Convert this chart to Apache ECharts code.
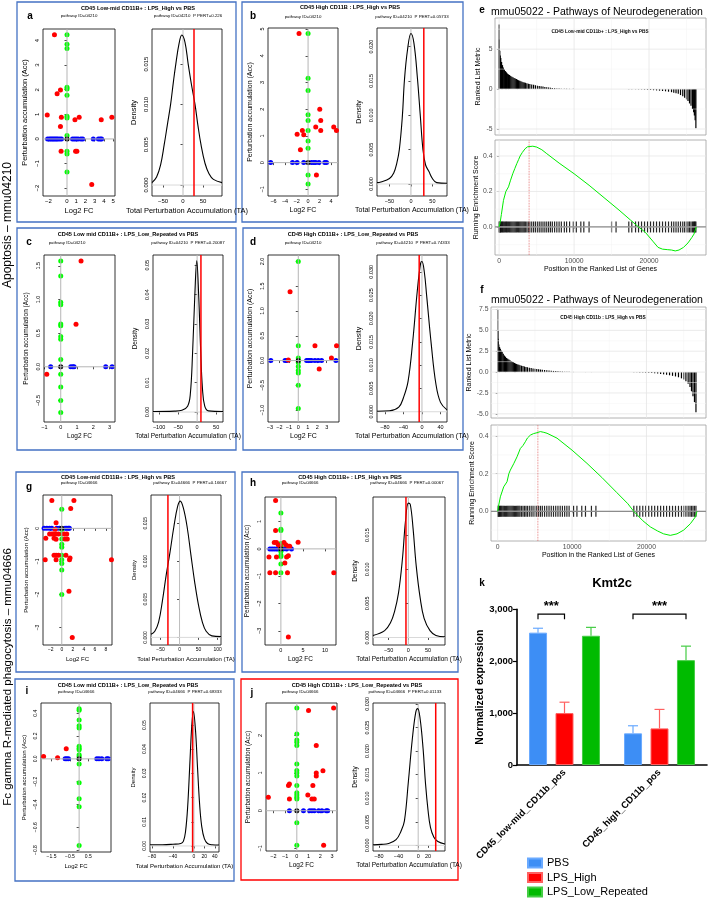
<!DOCTYPE html>
<html><head><meta charset="utf-8">
<script src="https://cdn.jsdelivr.net/npm/echarts@6/dist/echarts.min.js"></script>
<style>html,body{margin:0;padding:0;background:#fff}#c{width:710px;height:900px}</style>
</head><body><div id="c"></div>
<script>
// ---------------- DATA ----------------
// Panel a
const aRed = [[-1.36,4.24],[-1.07,1.84],[-0.71,1.99],[-2.14,0.97],[-0.61,0.88],[-0.71,0.51],[-0.64,-0.5],[0.86,0.78],[1.32,0.88],[0.93,-0.5],[1.07,-0.5],[3.71,0.78],[4.86,0.88],[2.68,-1.85]];
const aGreen = [4.24,3.85,3.68,2.1,2.03,1.78,0.92,0.85,0.14,-0.5,-0.61,-1.34];
const aBlue = [-2.1,-1.9,-1.75,-1.6,-1.45,-1.3,-1.15,-1.0,-0.8,-0.6,0.6,0.8,1.0,1.2,1.5,1.7,2.85,3.4,3.6,3.75];
const aDens = [[-77.5,0.0003],[-66,0.001],[-56,0.0025],[-47,0.005],[-39,0.0075],[-31,0.010],[-24,0.0128],[-18,0.015],[-10,0.0175],[-3,0.0186],[5,0.0177],[13,0.015],[21,0.0125],[30,0.010],[37,0.0075],[45,0.005],[55,0.0027],[65,0.0014],[76,0.0007],[97.5,0.0003]];
const aObs = 27.5;
const aSX = [-2,0,1,2,3,4,5], aSY = [-2,-1,0,1,2,3,4], aDX = [-50,0,50,100], aDY = [0,0.005,0.01,0.015];
// Panel b
const bRed = [[-1.57,4.83],[2.03,2.0],[2.2,1.58],[2.2,1.2],[1.33,1.33],[-1.9,1.06],[-0.99,1.2],[-0.75,1.04],[-1.33,0.48],[4.46,1.33],[4.93,1.2],[1.45,-0.46]];
const bGreen = [4.83,3.16,2.7,1.79,1.58,1.2,0.81,0.54,-0.46,-0.8];
const bBlue = [-6.5,-2.7,-1.9,-0.75,0.58,1.0,1.33,1.9,2.9,3.2];
const bDens = [[-79,0.0002],[-70,0.0003],[-50,0.0008],[-40,0.0016],[-33,0.003],[-27,0.005],[-20,0.0098],[-15,0.0152],[-8,0.0195],[0,0.0219],[7,0.0205],[15,0.0155],[22,0.0098],[28,0.005],[34,0.0028],[42,0.0018],[50,0.0008],[60,0.0002],[84,0.0001]];
const bObs = 30;
const bSX = [-6,-4,-2,0,2,4], bSY = [-1,0,1,2,3,4,5], bDX = [-50,0,50], bDY = [0,0.005,0.01,0.015,0.02];
// Panel c
const cRed = [[1.25,1.57],[0.94,0.63],[-0.86,-0.11]];
const cGreen = [1.57,1.35,0.96,0.92,0.635,0.61,0.45,0.41,0.11,-0.11,-0.3,-0.5,-0.68];
const cBlue = [-0.62,0.62,0.74,0.82,2.77,3.16];
const cDens = [[-116,0.0002],[-60,0.0003],[-40,0.0006],[-25,0.002],[-18,0.006],[-12,0.02],[-6,0.04],[-1,0.0515],[4,0.04],[9,0.022],[14,0.008],[20,0.002],[30,0.0004],[68,0.0002]];
const cObs = 10;
const cSX = [-1,0,1,2,3], cSY = [-0.5,0,0.5,1,1.5], cDX = [-100,-50,0,50], cDY = [0,0.01,0.02,0.03,0.04,0.05];
// Panel d
const dRed = [[-0.87,1.39],[-1.05,0.01],[1.76,0.3],[2.21,-0.17],[3.5,0.05],[4.04,0.3]];
const dGreen = [2.0,0.3,0.05,-0.04,-0.12,-0.2,-0.25,-0.5,-0.97];
const dBlue = [-2.9,-1.4,-1.2,0.88,1.05,1.23,1.4,1.76,2.1,2.46,3.97];
const dDens = [[-97,0.0001],[-70,0.0002],[-50,0.001],[-40,0.003],[-30,0.0065],[-20,0.015],[-10,0.026],[-3,0.0318],[0,0.0322],[5,0.030],[10,0.025],[20,0.0145],[30,0.006],[40,0.002],[54,0.0004]];
const dObs = -6;
const dSX = [-3,-2,-1,0,1,2,3], dSY = [-1,-0.5,0,0.5,1,1.5,2], dDX = [-80,-40,0,40], dDY = [0,0.005,0.01,0.015,0.02,0.025,0.03];
// Panel g
const gRed = [[-1.8,0.84],[2.2,0.84],[1.62,0.6],[-1.03,0.17],[-1.2,-0.03],[-2.9,-0.3],[-2.2,-0.17],[-1.8,-0.17],[-1.5,-0.17],[-1.03,-0.17],[-0.6,-0.17],[-1.4,-0.3],[-1.03,-0.33],[0.42,-0.17],[0.9,-0.17],[0.6,-0.32],[1.0,-0.32],[-1.4,-0.81],[-1.03,-0.81],[-0.6,-0.81],[0.75,-0.81],[1.5,-0.9],[1.4,-0.95],[-3.0,-0.95],[-1.03,-0.95],[9.0,-0.95],[1.3,-1.9],[1.9,-3.3]];
const gGreen = [0.58,-0.03,-0.17,-0.32,-0.48,-0.57,-0.81,-0.95,-1.06,-1.26,-2.0];
const gBlue = [-3.2,-2.7,-2.2,-1.8,-0.9,-0.42,0.6,0.9,1.2,1.38];
const gDens = [[-75,0.0004],[-65,0.0008],[-55,0.002],[-45,0.0048],[-35,0.0082],[-25,0.0112],[-15,0.0145],[-5,0.0172],[2,0.0179],[10,0.017],[20,0.0145],[30,0.0108],[40,0.0072],[50,0.0042],[60,0.002],[70,0.0008],[85,0.0002],[109,0.0001]];
const gObs = -30.5;
const gSX = [-2,0,2,4,6,8], gSY = [-3,-2,-1,0], gDX = [-50,0,50,100], gDY = [0,0.005,0.01,0.015];
// Panel h
const hRed = [[-1.2,1.77],[-1.2,0.67],[-1.5,0.23],[-1.0,0.23],[-0.6,0.15],[-0.2,0.1],[0.7,0.23],[1.1,0.15],[1.7,0.1],[2.0,0.1],[3.9,0.24],[-2.7,-0.3],[-1.0,-0.3],[1.3,-0.3],[1.7,-0.25],[0.9,-0.52],[-2.5,-0.87],[-1.2,-0.87],[1.5,-0.87],[12.0,-0.87],[1.7,-3.23]];
const hGreen = [1.31,0.72,0.67,0.2,0.1,-0.1,-0.22,-0.28,-0.55,-0.87];
const hBlue = [-2.5,-2.0,-1.5,-1.0,-0.6,0.5,1.3,2.4];
const hDens = [[-89.6,0.0003],[-60,0.001],[-45,0.0022],[-35,0.0038],[-25,0.0065],[-15,0.0115],[-7,0.0172],[0,0.0197],[5,0.0195],[12,0.016],[20,0.0105],[30,0.0058],[40,0.0028],[55,0.001],[70,0.0003],[93,0.0001]];
const hObs = -6;
const hSX = [0,5,10], hSY = [-3,-2,-1,0,1], hDX = [-50,0,50], hDY = [0,0.005,0.01,0.015];
// Panel i
const iRed = [[-1.93,0.02],[-1.17,0.01],[-0.7,0.088]];
const iGreen = [0.44,0.426,0.34,0.29,0.27,0.11,0.094,0.08,0.035,0.02,-0.044,-0.21,-0.35,-0.42,-0.76];
const iBlue = [-0.76,-0.67,-0.58,0.96,1.08,1.23,1.5,1.58];
const iDens = [[-84,0.0005],[-60,0.0005],[-40,0.0007],[-25,0.001],[-20,0.002],[-16,0.006],[-12,0.016],[-8,0.033],[-4,0.05],[-1,0.0556],[3,0.048],[7,0.032],[11,0.017],[15,0.008],[20,0.003],[26,0.001],[35,0.0005],[48,0.0004]];
const iObs = -2.5;
const iSX = [-1.5,-0.5,0.5], iSY = [-0.8,-0.6,-0.4,-0.2,0,0.2,0.4], iDX = [-80,-40,0,20,40], iDY = [0,0.01,0.02,0.03,0.04,0.05];
// Panel j
const jRed = [[-2.43,0.36],[-0.63,0.71],[-0.71,0.67],[-0.63,0.31],[1.0,2.66],[3.14,2.73],[1.66,1.73],[1.66,1.0],[1.66,0.92],[2.23,1.06],[1.37,0.67],[0.94,0.42],[1.29,0.31],[1.49,0.31],[2.29,-0.92]];
const jGreen = [2.73,2.04,1.88,1.82,1.73,1.24,1.07,1.0,0.92,0.67,0.48,0.42,0.36,0.31,-0.32,-0.92];
const jBlue = [-0.63,0.57,1.09,1.29,1.49,1.86,2.14,2.51,2.63];
const jDens = [[-92,0.0001],[-75,0.0002],[-60,0.0004],[-45,0.0012],[-35,0.003],[-28,0.0052],[-20,0.0135],[-12,0.0225],[-5,0.0282],[-1,0.029],[4,0.0268],[10,0.0205],[15,0.013],[20,0.0075],[25,0.0038],[32,0.0017],[40,0.0008],[54.6,0.0003]];
const jObs = 35.7;
const jSX = [-2,-1,0,1,2,3], jSY = [-1,0,1,2], jDX = [-80,-40,0,20], jDY = [0,0.005,0.01,0.015,0.02,0.025,0.03];

// GSEA e
const eHits = [0,40,90,150,220,330,450,560,700,850,980,1100,1250,1400,1550,1700,1850,2000,2150,2300,2450,2600,2750,2900,3050,3200,3350,3500,3700,3900,4100,4350,4600,4850,5100,5350,5600,5850,6100,6350,6600,6850,7100,7400,7700,8000,8300,8700,9000,9400,9900,10300,10900,11300,12000,15000,15600,17300,17700,18200,18600,19000,19400,19800,20200,20600,21000,21400,21800,22200,22600,23000,23300,23600,23900,24200,24500,24750,25000,25200,25400,25600,25800,25950,26050,26150,26250];
const eMetric = [8.1,6.2,4.8,4.2,3.9,3.4,3.0,2.7,2.45,2.25,2.1,1.95,1.85,1.75,1.65,1.55,1.48,1.4,1.32,1.25,1.18,1.1,1.03,0.97,0.92,0.87,0.82,0.78,0.73,0.68,0.63,0.58,0.53,0.48,0.43,0.39,0.35,0.31,0.27,0.23,0.2,0.17,0.14,0.11,0.08,0.06,0.05,0.04,0.04,0.03,0.03,0.02,0.02,0.02,0.01,0.0,0.0,-0.01,-0.02,-0.03,-0.04,-0.05,-0.07,-0.09,-0.11,-0.14,-0.17,-0.2,-0.24,-0.28,-0.33,-0.39,-0.45,-0.52,-0.6,-0.75,-0.9,-1.1,-1.3,-1.5,-1.8,-2.1,-2.5,-2.9,-3.3,-3.9,-4.9];
const eES = [[0,0],[130,0.024],[300,0.07],[580,0.15],[900,0.2],[1250,0.226],[1500,0.26],[1820,0.3],[2100,0.33],[2360,0.357],[2600,0.38],[2800,0.4],[3100,0.42],[3470,0.441],[3800,0.452],[4000,0.456],[4500,0.455],[5020,0.45],[5700,0.435],[6360,0.413],[8000,0.36],[10000,0.3],[12000,0.235],[14000,0.165],[16000,0.095],[17500,0.04],[18600,0.0],[19500,-0.03],[20500,-0.08],[21200,-0.115],[21800,-0.125],[22500,-0.128],[23000,-0.13],[23500,-0.135],[24000,-0.13],[24600,-0.115],[25200,-0.09],[25700,-0.06],[26000,-0.04],[26300,0.0]];
const ePeak = 4000;
const eY1 = [-5,0,5], eY2 = [0,0.2,0.4], gseaX = [0,10000,20000];
// GSEA f
const fHits = [0,40,90,150,250,360,480,600,750,900,1050,1200,1350,1500,1650,1800,1950,2100,2250,2400,2550,2700,2850,3000,3200,3400,3600,3800,4000,4250,4500,4750,5000,5250,5500,5750,6000,6300,6600,6900,7200,7500,7800,8100,8400,8700,9000,9300,9600,10200,10650,11300,11800,12600,13200,18300,18700,19100,19500,19900,20300,20700,21100,21500,21900,22300,22700,23100,23500,23900,24300,24700,25000,25300,25600,25850,26050,26250,26450,26650];
const fMetric = [7.5,5.0,4.0,3.3,3.0,2.8,2.6,2.45,2.2,2.0,1.85,1.7,1.6,1.5,1.42,1.33,1.25,1.17,1.1,1.03,0.97,0.92,0.87,0.82,0.77,0.72,0.67,0.62,0.58,0.53,0.48,0.44,0.4,0.37,0.34,0.31,0.28,0.25,0.22,0.19,0.16,0.14,0.12,0.1,0.08,0.06,0.05,0.04,0.03,0.02,0.02,0.015,0.01,0.01,0.01,-0.02,-0.03,-0.04,-0.05,-0.07,-0.09,-0.12,-0.15,-0.18,-0.22,-0.27,-0.32,-0.38,-0.45,-0.52,-0.62,-0.75,-0.9,-1.1,-1.4,-1.8,-2.3,-2.9,-3.6,-4.8];
const fES = [[0,0],[134,0.032],[358,0.077],[806,0.13],[1254,0.157],[1500,0.2],[1700,0.219],[2150,0.253],[2600,0.29],[3046,0.334],[3400,0.35],[3718,0.37],[4000,0.39],[4390,0.405],[4800,0.413],[5286,0.418],[5734,0.424],[6200,0.42],[6630,0.415],[7974,0.389],[10000,0.325],[12000,0.255],[14000,0.18],[16000,0.1],[17500,0.04],[18280,0.0],[19500,-0.05],[20520,-0.083],[21500,-0.105],[22300,-0.12],[23200,-0.128],[24100,-0.12],[25000,-0.1],[25900,-0.066],[26570,-0.03],[26790,0.0]];
const fPeak = 5400;
const fY1 = [-5,-2.5,0,2.5,5,7.5], fY2 = [0,0.2,0.4];
// Bar chart k
const kGroups = ['CD45_low-mid_CD11b_pos','CD45_high_CD11b_pos'];
const kNames = ['PBS','LPS_High','LPS_Low_Repeated'];
const kPBS = [2550,610], kPBSErr = [85,146];
const kHigh = [1000,705], kHighErr = [210,366];
const kLow = [2490,2020], kLowErr = [162,270];
const kSig = [[0,0,1,2907,2807],[1,0,2,2907,2807]];
const kY = [0,1000,2000,3000];

// ---------------- LAYOUT ----------------
const FONT = 'Liberation Sans';
const P = {
 a:{box:[17,2,236,222],S:[43,29,115,196],D:[152,29,222,196],sx:[-2.6,5.2],sy:[-2.32,4.47],dx:[-77.5,97.5],dy:[-0.00136,0.01935],title:[138,8],letter:[30,16],subL:[79,16],subR:[188,16],nf:7.5,tf:6,dyd:3},
 b:{box:[242,2,463,222],S:[268,28,338,196],D:[377,28,447,196],sx:[-6.96,5.2],sy:[-1.25,5.04],dx:[-79,84],dy:[-0.00175,0.0227],title:[350,7],letter:[253,16],subL:[303,17],subR:[412,17],nf:7,tf:5.5,dyd:3},
 c:{box:[17,228,236,450],S:[44,255,115,422],D:[153,255,223,422],sx:[-1.03,3.34],sy:[-0.82,1.66],dx:[-116,68],dy:[-0.0034,0.0535],title:[128,234],letter:[29,242],subL:[67,243],subR:[188,243],nf:6.5,tf:5.5,syd:1,dyd:2},
 d:{box:[243,228,463,450],S:[268,255,339,422],D:[377,255,447,422],sx:[-3.2,4.3],sy:[-1.24,2.13],dx:[-97,54],dy:[-0.0022,0.0336],title:[353,234],letter:[253,242],subL:[303,243],subR:[413,243],nf:7,tf:5.5,syd:1,dyd:3},
 g:{box:[16,472,235,672],S:[43,495,112,645],D:[151,495,221,645],sx:[-3.4,9.1],sy:[-3.53,1.01],dx:[-75,109],dy:[-0.001,0.0187],title:[118,477],letter:[29,487],subL:[79,483],subR:[190,483],nf:6,tf:5,dyd:3},
 h:{box:[242,472,458,672],S:[265,497,336,645],D:[373,497,445,645],sx:[-3.6,12.5],sy:[-3.52,1.9],dx:[-89.6,93],dy:[-0.0011,0.0206],title:[350,477],letter:[253,483],subL:[300,483],subR:[407,483],nf:6.5,tf:5.5,dyd:3},
 i:{box:[15,679,234,881],S:[41,703,111,852],D:[150,703,219,852],sx:[-2.07,1.73],sy:[-0.817,0.49],dx:[-84,48],dy:[-0.0025,0.0591],title:[128,685],letter:[27,691],subL:[76,692],subR:[185,692],nf:6,tf:5,sxd:1,syd:1,dyd:2},
 j:{box:[241,679,458,880],S:[266,703,337,851],D:[373,703,445,851],sx:[-2.63,3.43],sy:[-1.07,2.86],dx:[-92,54.6],dy:[-0.0012,0.0302],title:[357,685],letter:[252,693],subL:[300,692],subR:[405,692],nf:6.5,tf:5.5,dyd:3,red:true}
};
const PD = {
 a:{red:aRed,green:aGreen,blue:aBlue,dens:aDens,obs:aObs,sxT:aSX,syT:aSY,dxT:aDX,dyT:aDY,title:'CD45 Low-mid CD11B+ : LPS_High vs PBS',id:'04210',pert:'0.226'},
 b:{red:bRed,green:bGreen,blue:bBlue,dens:bDens,obs:bObs,sxT:bSX,syT:bSY,dxT:bDX,dyT:bDY,title:'CD45 High CD11B : LPS_High vs PBS',id:'04210',pert:'0.05733'},
 c:{red:cRed,green:cGreen,blue:cBlue,dens:cDens,obs:cObs,sxT:cSX,syT:cSY,dxT:cDX,dyT:cDY,title:'CD45 Low mid CD11B+ : LPS_Low_Repeated vs PBS',id:'04210',pert:'0.20087'},
 d:{red:dRed,green:dGreen,blue:dBlue,dens:dDens,obs:dObs,sxT:dSX,syT:dSY,dxT:dDX,dyT:dDY,title:'CD45 High CD11B+ : LPS_Low_Repeated vs PBS',id:'04210',pert:'0.74333'},
 g:{red:gRed,green:gGreen,blue:gBlue,dens:gDens,obs:gObs,sxT:gSX,syT:gSY,dxT:gDX,dyT:gDY,title:'CD45 Low-mid CD11B+ : LPS_High vs PBS',id:'04666',pert:'0.16667'},
 h:{red:hRed,green:hGreen,blue:hBlue,dens:hDens,obs:hObs,sxT:hSX,syT:hSY,dxT:hDX,dyT:hDY,title:'CD45 High CD11B+ : LPS_High vs PBS',id:'04666',pert:'0.00067'},
 i:{red:iRed,green:iGreen,blue:iBlue,dens:iDens,obs:iObs,sxT:iSX,syT:iSY,dxT:iDX,dyT:iDY,title:'CD45 Low mid CD11B+ : LPS_Low_Repeated vs PBS',id:'04666',pert:'0.68333'},
 j:{red:jRed,green:jGreen,blue:jBlue,dens:jDens,obs:jObs,sxT:jSX,syT:jSY,dxT:jDX,dyT:jDY,title:'CD45 High CD11B+ : LPS_Low_Repeated vs PBS',id:'04666',pert:'0.01133'}
};

const grid=[], xAxis=[], yAxis=[], series=[], graphic=[];
function fmt(v, dec, neg){ const s = dec==null ? String(Math.abs(v)) : Math.abs(v).toFixed(dec); return (v<0?(neg||'\u2212'):'')+s; }
function addGrid(r, opt){ grid.push(Object.assign({left:r[0],top:r[1],width:r[2]-r[0],height:r[3]-r[1],show:true,borderColor:'#000',borderWidth:0.8,containLabel:false}, opt||{})); return grid.length-1; }
function rAxis(gi, isY, rng, ticks, dec, tf, name, nf, gap){
  return {type:'value', gridIndex:gi, min:rng[0], max:rng[1],
    axisLine:{show:false}, splitLine:{show:false},
    axisTick:{show:true, customValues:ticks, length:2.5, lineStyle:{color:'#000',width:0.7}},
    axisLabel:{show:true, customValues:ticks, formatter:v=>fmt(v,dec), fontSize:tf, color:'#000', fontFamily:FONT, margin:2.5, rotate:isY?90:0, hideOverlap:false},
    name:name, nameLocation:'middle', nameGap:gap, nameTextStyle:{fontSize:nf, color:'#000', fontFamily:FONT}};
}
function seg(xi, yi, data, color, w, type){ return {type:'line', xAxisIndex:xi, yAxisIndex:yi, data:data, symbol:'none', silent:true, animation:false, lineStyle:{color:color, width:w, type:type||'solid'}}; }
function pts(xi, yi, data, color, size){ return {type:'scatter', xAxisIndex:xi, yAxisIndex:yi, data:data, symbol:'circle', symbolSize:size||5, silent:true, itemStyle:{color:color, opacity:1}}; }
function txt(x, y, s, fs, o){ graphic.push({type:'text', x:x, y:y, rotation:(o&&o.rot)||0, silent:true, style:Object.assign({text:s, fontSize:fs, fontFamily:FONT, fill:'#000', align:'center', verticalAlign:'middle'}, (o&&o.style)||{})}); }

function rPanel(k){
  const p = P[k], d = PD[k];
  const gs = addGrid(p.S), gd = addGrid(p.D);
  const xs = xAxis.length, ys = yAxis.length;
  xAxis.push(rAxis(gs,false,p.sx,d.sxT,p.sxd,p.tf,'Log2 FC',p.nf,11));
  yAxis.push(rAxis(gs,true,p.sy,d.syT,p.syd,p.tf,'Perturbation accumulation (Acc)',p.nf,14));
  xAxis.push(rAxis(gd,false,p.dx,d.dxT,null,p.tf,'Total Perturbation Accumulation (TA)',p.nf,11));
  yAxis.push(rAxis(gd,true,p.dy,d.dyT,p.dyd,p.tf,'Density',p.nf,14));
  const xd = xs+1, yd = ys+1;
  series.push(seg(xs,ys,[[0,p.sy[0]],[0,p.sy[1]]],'#b5b5b5',1));
  series.push(seg(xs,ys,[[p.sx[0],0],[p.sx[1],0]],'#b5b5b5',1));
  series.push(pts(xs,ys,d.blue.map(x=>[x,0]),'#0000ff'));
  series.push(pts(xs,ys,d.green.map(y=>[0,y]),'#00ff00'));
  series.push(pts(xs,ys,d.red,'#ff0000'));
  series.push(pts(xs,ys,[[0,0]],'#000000'));
  series.push(seg(xd,yd,[[0,p.dy[0]],[0,p.dy[1]]],'#bdbdbd',1));
  series.push(seg(xd,yd,[[p.dx[0],0],[p.dx[1],0]],'#d9d9d9',1));
  series.push({type:'line', xAxisIndex:xd, yAxisIndex:yd, data:d.dens, smooth:0.4, symbol:'none', silent:true, lineStyle:{color:'#000',width:1.1}});
  series.push(seg(xd,yd,[[d.obs,p.dy[0]],[d.obs,p.dy[1]]],'#ff0000',1.5));
  const b = p.box;
  graphic.push({type:'rect', silent:true, shape:{x:b[0],y:b[1],width:b[2]-b[0],height:b[3]-b[1]}, style:{fill:'none', stroke:p.red?'#ff0000':'#4472c4', lineWidth:1.3}});
  txt(p.title[0], p.title[1], d.title, 5.6, {style:{fontWeight:'bold'}});
  txt(p.letter[0], p.letter[1], k, 10, {style:{fontWeight:'bold'}});
  txt(p.subL[0], p.subL[1], 'pathway ID='+d.id, 4.4);
  txt(p.subR[0], p.subR[1], 'pathway ID='+d.id+'  P PERT='+d.pert, 4.4);
}
['a','b','c','d','g','h','i','j'].forEach(rPanel);

// ---------------- GSEA ----------------
const G = {
 e:{top:[495,18,706,135], bot:[495,140,706,255], x:[-550,27600], y1:[-5.75,8.9], y2:[-0.158,0.49], y1d:0, title:[597,12], letter:[482,10], sub:[600,32], subText:'CD45 Low-mid CD11b+ : LPS_High vs PBS', y1Minor:[-2.5,2.5,7.5]},
 f:{top:[491,307,706,418], bot:[491,425,706,541], x:[-900,28000], y1:[-5.5,7.8], y2:[-0.158,0.459], y1d:1, title:[597,300], letter:[482,290], sub:[603,318], subText:'CD45 High CD11b : LPS_High vs PBS', y1Minor:[-3.75,-1.25,1.25,3.75,6.25]}
};
const GD = {e:{hits:eHits, metric:eMetric, es:eES, peak:ePeak, y1T:eY1, y2T:eY2}, f:{hits:fHits, metric:fMetric, es:fES, peak:fPeak, y1T:fY1, y2T:fY2}};
function ggAxis(gi, rng, ticks, dec, name, show, gap){
  return {type:'value', gridIndex:gi, min:rng[0], max:rng[1], axisLine:{show:false}, splitLine:{show:false},
    axisTick:{show:show, customValues:ticks, length:2, lineStyle:{color:'#333',width:0.6}},
    axisLabel:{show:show, customValues:ticks, formatter:v=>fmt(v,dec,'-'), fontSize:6.8, color:'#4d4d4d', fontFamily:FONT, margin:2.5},
    name: show?name:'', nameLocation:'middle', nameGap:gap, nameTextStyle:{fontSize:7, color:'#000', fontFamily:FONT}};
}
function gsea(k){
  const p = G[k], d = GD[k];
  const g1 = addGrid(p.top,{borderColor:'#9e9e9e',borderWidth:0.8}), g2 = addGrid(p.bot,{borderColor:'#9e9e9e',borderWidth:0.8});
  const x1 = xAxis.length, y1 = yAxis.length;
  xAxis.push(ggAxis(g1, p.x, gseaX, null, '', false, 0));
  yAxis.push(ggAxis(g1, p.y1, d.y1T, p.y1d, 'Ranked List Metric', true, 13));
  xAxis.push(ggAxis(g2, p.x, gseaX, null, 'Position in the Ranked List of Genes', true, 9));
  yAxis.push(ggAxis(g2, p.y2, d.y2T, 1, 'Running Enrichment Score', true, 14));
  const x2 = x1+1, y2 = y1+1;
  const maj = '#e6e6e6', mnr = '#f3f3f3';
  [5000,15000,25000].forEach(v=>{ series.push(seg(x1,y1,[[v,p.y1[0]],[v,p.y1[1]]],mnr,0.5)); series.push(seg(x2,y2,[[v,p.y2[0]],[v,p.y2[1]]],mnr,0.5)); });
  p.y1Minor.forEach(v=>series.push(seg(x1,y1,[[p.x[0],v],[p.x[1],v]],mnr,0.5)));
  [-0.1,0.1,0.3].forEach(v=>series.push(seg(x2,y2,[[p.x[0],v],[p.x[1],v]],mnr,0.5)));
  gseaX.forEach(v=>{ series.push(seg(x1,y1,[[v,p.y1[0]],[v,p.y1[1]]],maj,0.8)); series.push(seg(x2,y2,[[v,p.y2[0]],[v,p.y2[1]]],maj,0.8)); });
  d.y1T.forEach(v=>series.push(seg(x1,y1,[[p.x[0],v],[p.x[1],v]],maj,0.8)));
  d.y2T.forEach(v=>series.push(seg(x2,y2,[[p.x[0],v],[p.x[1],v]],maj,0.8)));
  series.push({type:'bar', xAxisIndex:x1, yAxisIndex:y1, data:d.hits.map((h,i)=>[h,d.metric[i]]), barWidth:1.2, silent:true, itemStyle:{color:'#000'}});
  series.push(seg(x2,y2,[[p.x[0],0],[p.x[1],0]],'#8c8c8c',1.2));
  series.push(seg(x2,y2,[[d.peak,p.y2[0]],[d.peak,p.y2[1]]],'#e06060',0.8,'dotted'));
  series.push({type:'scatter', xAxisIndex:x2, yAxisIndex:y2, data:d.hits.map(h=>[h,0]), symbol:'rect', symbolSize:[1.2,11], silent:true, itemStyle:{color:'#000', opacity:0.85}});
  series.push({type:'line', xAxisIndex:x2, yAxisIndex:y2, data:d.es, symbol:'none', silent:true, lineStyle:{color:'#00ee00', width:1}});
  txt(p.title[0], p.title[1], 'mmu05022 - Pathways of Neurodegeneration', 10.5);
  txt(p.letter[0], p.letter[1], k, 10, {style:{fontWeight:'bold'}});
  txt(p.sub[0], p.sub[1], p.subText, 4.8, {style:{fontWeight:'bold'}});
}
gsea('e'); gsea('f');

// ---------------- BAR k ----------------
const gk = addGrid([517,609.3,707,765], {show:false});
const kx = xAxis.length, ky = yAxis.length;
xAxis.push({type:'category', gridIndex:gk, data:kGroups, axisLine:{lineStyle:{color:'#000',width:1.6}}, axisTick:{alignWithLabel:true, length:4, lineStyle:{color:'#000',width:1.2}},
  axisLabel:{rotate:45, fontSize:9.5, fontWeight:'bold', color:'#000', fontFamily:FONT, margin:6, interval:0}});
yAxis.push({type:'value', gridIndex:gk, min:0, max:3000, axisLine:{show:true, lineStyle:{color:'#000',width:1.6}}, axisTick:{show:true, customValues:kY, length:4, lineStyle:{color:'#000',width:1.2}},
  axisLabel:{customValues:kY, fontSize:9.5, fontWeight:'bold', color:'#000', fontFamily:FONT, margin:4}, splitLine:{show:false},
  name:'Normalized expression', nameLocation:'middle', nameGap:30, nameTextStyle:{fontSize:10.5, fontWeight:'bold', color:'#000', fontFamily:FONT}});
const kCols = [['#3d8ef5','#6aaaff'],['#ff0000','#ff6060'],['#00bb00','#44cc44']];
const kVals = [kPBS,kHigh,kLow], kErrs = [kPBSErr,kHighErr,kLowErr];
const BAR_OFF = 26.5;
kNames.forEach((n,s)=>{
  series.push({type:'bar', name:n, xAxisIndex:kx, yAxisIndex:ky, data:kVals[s], barWidth:18, barGap:'47%', barCategoryGap:'25%', silent:true,
    itemStyle:{color:kCols[s][0], borderColor:kCols[s][1], borderWidth:1}});
});
kNames.forEach((n,s)=>{
  series.push({type:'custom', xAxisIndex:kx, yAxisIndex:ky, silent:true, z:3,
    data:kVals[s].map((v,i)=>[i,v,kErrs[s][i]]),
    renderItem:(params, api)=>{
      const b = api.coord([api.value(0), api.value(1)]);
      const t = api.coord([api.value(0), api.value(1)+api.value(2)]);
      const x = b[0] + (s-1)*BAR_OFF;
      const st = {stroke:kCols[s][1], lineWidth:1.2};
      return {type:'group', children:[
        {type:'line', shape:{x1:x,y1:b[1],x2:x,y2:t[1]}, style:st},
        {type:'line', shape:{x1:x-5,y1:t[1],x2:x+5,y2:t[1]}, style:st}]};
    }});
});
series.push({type:'custom', xAxisIndex:kx, yAxisIndex:ky, silent:true, z:3, data:kSig,
  renderItem:(params, api)=>{
    const c = api.coord([api.value(0), api.value(3)]);
    const l = api.coord([api.value(0), api.value(4)]);
    const xa = c[0] + (api.value(1)-1)*BAR_OFF, xb = c[0] + (api.value(2)-1)*BAR_OFF;
    return {type:'group', children:[
      {type:'polyline', shape:{points:[[xa,l[1]],[xa,c[1]],[xb,c[1]],[xb,l[1]]]}, style:{stroke:'#000', lineWidth:1.2, fill:null}},
      {type:'text', x:(xa+xb)/2, y:c[1]-1, style:{text:'***', align:'center', verticalAlign:'bottom', fontSize:13, fontWeight:'bold', fill:'#000', fontFamily:FONT}}]};
  }});
txt(482, 583, 'k', 10, {style:{fontWeight:'bold'}});
txt(612, 583, 'Kmt2c', 13, {style:{fontWeight:'bold'}});

// left side labels
txt(8, 225, 'Apoptosis \u2013 mmu04210', 12, {rot:Math.PI/2});
txt(8, 677, 'Fc gamma R-mediated phagocytosis \u2013 mmu04666', 11.5, {rot:Math.PI/2});

const chart = echarts.init(document.getElementById('c'), null, {renderer:'canvas', width:710, height:900});
chart.setOption({
  animation:false, backgroundColor:'#fff', textStyle:{fontFamily:FONT},
  grid, xAxis, yAxis, series, graphic,
  legend:{data:kNames, left:527, top:857, orient:'vertical', icon:'rect', itemWidth:14, itemHeight:9, itemGap:2.5, padding:0, selectedMode:false,
    textStyle:{fontSize:11, lineHeight:12, height:12, color:'#000', fontFamily:FONT}}
});
</script></body></html>
